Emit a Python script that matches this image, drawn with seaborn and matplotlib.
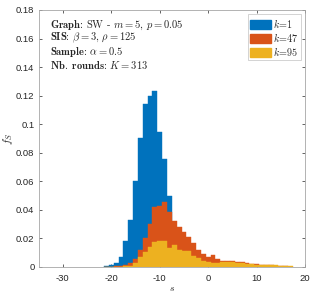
import numpy as np
import pandas as pd
import matplotlib
matplotlib.use("Agg")
import matplotlib.pyplot as plt
import seaborn as sns
from matplotlib.patches import Patch

# ---------------- DATA ----------------
s_bins = list(range(-21, 18))

f_k1 = [0.0005, 0.0015, 0.003, 0.0072, 0.0183, 0.0328, 0.060, 0.090, 0.114, 0.120,
        0.123, 0.0948, 0.0757, 0.050, 0.022, 0.012, 0.006, 0.003, 0.0015, 0.0008,
        0, 0, 0, 0, 0, 0, 0, 0, 0, 0, 0, 0, 0, 0, 0, 0, 0, 0, 0]
f_k47 = [0, 0, 0.0005, 0.001, 0.0015, 0.003, 0.0055, 0.012, 0.020, 0.030,
         0.042, 0.043, 0.0455, 0.0385, 0.032, 0.028, 0.0246, 0.0207, 0.0165, 0.0118,
         0.0091, 0.0068, 0.0082, 0.0054, 0.0044, 0.0042, 0.004, 0.0037, 0.0034, 0.0026,
         0.0022, 0.0018, 0.0016, 0.0017, 0.0012, 0.001, 0.0006, 0.0005, 0.0003]
f_k95 = [0, 0, 0, 0.0003, 0.0005, 0.001, 0.0025, 0.0072, 0.0105, 0.014,
         0.0177, 0.018, 0.018, 0.0135, 0.0153, 0.0118, 0.0115, 0.0115, 0.0077, 0.006,
         0.0044, 0.0033, 0.0026, 0.0026, 0.0037, 0.0035, 0.0033, 0.003, 0.0026, 0.0019,
         0.0019, 0.0015, 0.0015, 0.0015, 0.0013, 0.0012, 0.0007, 0.0007, 0.0004]

series = [(r"$k\!=\!1$", f_k1, "#0072BD"),
          (r"$k\!=\!47$", f_k47, "#D95319"),
          (r"$k\!=\!95$", f_k95, "#EDB120")]

x_ticks = [-30, -20, -10, 0, 10, 20]
y_ticks = [0, 0.02, 0.04, 0.06, 0.08, 0.1, 0.12, 0.14, 0.16, 0.18]
y_labels = ["0", "0.02", "0.04", "0.06", "0.08", "0.1", "0.12", "0.14", "0.16", "0.18"]

info_lines = [
    r"$\mathbf{Graph}$: SW - $m = 5$, $p = 0.05$",
    r"$\mathbf{SIS}$: $\beta = 3$, $\rho = 125$",
    r"$\mathbf{Sample}$: $\alpha = 0.5$",
    r"$\mathbf{Nb.\ rounds}$: $K = 313$",
]

# ---------------- STYLE ----------------
sns.set_style("ticks")
plt.rcParams["font.family"] = ["Liberation Sans", "DejaVu Sans"]
plt.rcParams["mathtext.fontset"] = "cm"

fig = plt.figure(figsize=(3.11, 2.94), dpi=100)
ax = fig.add_axes([0.124, 0.092, 0.857, 0.874])

for label, vals, color in series:
    df = pd.DataFrame({"s": s_bins, "f": vals})
    sns.histplot(data=df, x="s", weights="f", binwidth=1,
                 binrange=(min(s_bins) - 0.5, max(s_bins) + 0.5), color=color,
                 alpha=1, edgecolor=color, linewidth=0.3, ax=ax)

ax.set_xlim(-35, 20)
ax.set_ylim(0, 0.18)
ax.set_xticks(x_ticks)
ax.set_xticklabels([str(v) for v in x_ticks])
ax.set_yticks(y_ticks)
ax.set_yticklabels(y_labels)
ax.tick_params(direction="in", length=2.5, width=0.5, labelsize=6.8,
               colors="0.15", top=True, right=True, pad=3)
ax.tick_params(axis="x", pad=5)
for side in ax.spines.values():
    side.set_visible(True)
    side.set_linewidth(0.6)
    side.set_color("0.65")

ax.set_xlabel("$s$", fontsize=7, color="0.15", labelpad=0)
ax.set_ylabel("$f_S$", fontsize=8, color="0.15", labelpad=1)

# annotation block
for i, line in enumerate(info_lines):
    ax.text(0.043, 0.942 - i * 0.052, line, transform=ax.transAxes,
            fontsize=7.6, family="cmr10", va="center", ha="left")

handles = [Patch(facecolor=c, edgecolor=c, label=l) for l, _, c in series]
leg = ax.legend(handles=handles, loc="upper right", fontsize=7.3,
                frameon=True, fancybox=False, handlelength=2.0, handleheight=1.0,
                handletextpad=0.2, borderpad=0.25, labelspacing=0.1,
                borderaxespad=0.4)
leg.get_frame().set_edgecolor("0.75")
leg.get_frame().set_linewidth(0.6)

fig.savefig("out.png", dpi=100)
